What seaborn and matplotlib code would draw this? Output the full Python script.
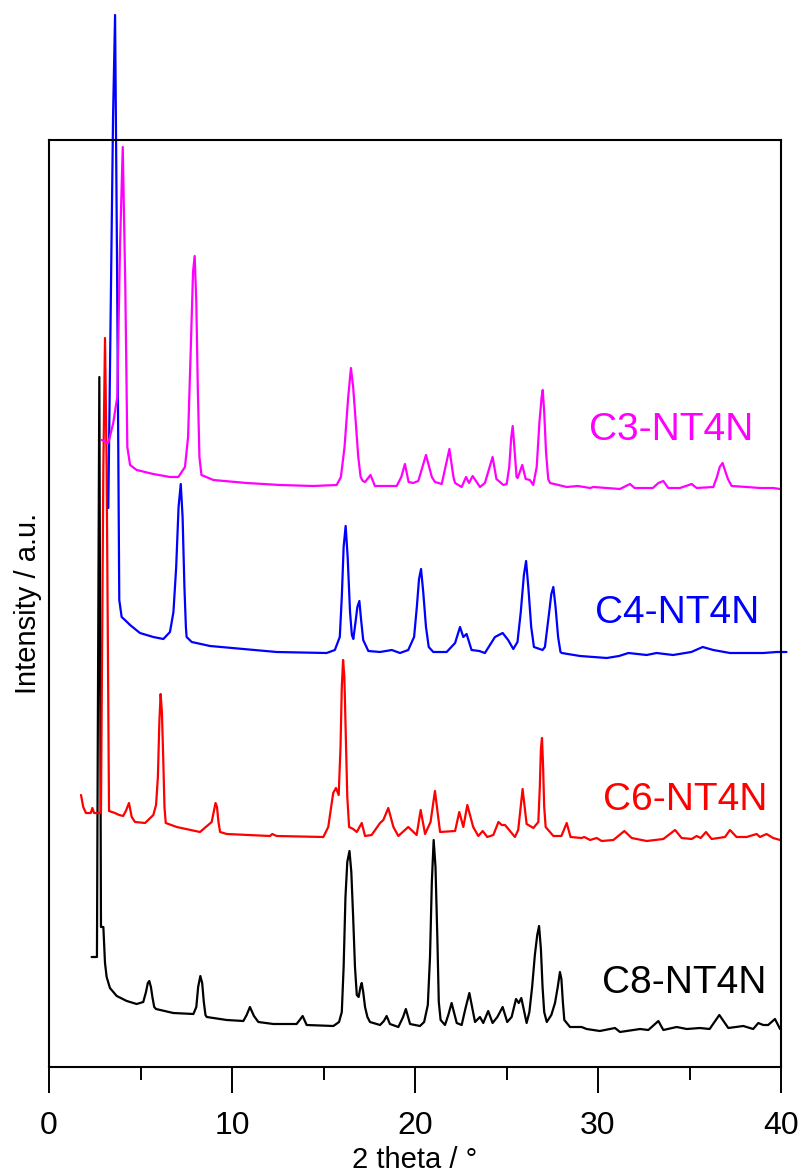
import numpy as np
import pandas as pd
import matplotlib
matplotlib.use("Agg")
import matplotlib.pyplot as plt
import seaborn as sns

# XRD patterns (2 theta in degrees, intensity in a.u., already offset)
c8_theta = [2.33, 2.62, 2.66, 2.75, 2.80, 2.84, 2.97, 3.06, 3.15, 3.33, 3.70, 4.25, 4.79, 5.15, 5.30, 5.40,
            5.48, 5.57, 5.65, 5.75, 5.85, 6.79, 7.89, 8.05, 8.15, 8.27, 8.37, 8.46, 8.55, 8.62, 9.71, 10.62,
            10.80, 10.98, 11.20, 11.44, 12.26, 13.53, 13.70, 13.86, 14.08, 15.54, 15.85, 16.00, 16.10, 16.20,
            16.30, 16.42, 16.52, 16.62, 16.72, 16.82, 16.92, 17.02, 17.09, 17.17, 17.27, 17.40, 17.54, 18.09,
            18.30, 18.45, 18.63, 19.09, 19.35, 19.50, 19.73, 20.27, 20.50, 20.70, 20.82, 20.92, 21.02, 21.12,
            21.22, 21.30, 21.40, 21.64, 21.82, 22.00, 22.28, 22.55, 22.75, 22.97, 23.28, 23.55, 23.73, 24.00,
            24.24, 24.50, 24.79, 25.04, 25.28, 25.52, 25.67, 25.81, 26.10, 26.25, 26.40, 26.55, 26.68, 26.78,
            26.88, 26.97, 27.06, 27.20, 27.45, 27.65, 27.80, 27.92, 28.00, 28.08, 28.16, 28.47, 29.10, 29.38,
            30.10, 30.93, 31.20, 32.30, 32.75, 33.30, 33.57, 34.30, 34.85, 35.57, 36.10, 36.63, 37.12, 37.94,
            38.48, 38.76, 39.03, 39.30, 39.67, 39.95]
c8_int = [110, 110, 300, 690, 400, 140, 140, 104, 90, 79, 71, 66, 63, 65, 75, 84,
          86, 80, 70, 60, 58, 54, 53, 60, 80, 91, 84, 65, 52, 50, 47, 46,
          52, 60, 51, 45, 43, 43, 47, 51, 42, 41, 45, 55, 100, 170,
          205, 216, 195, 150, 100, 72, 70, 80, 84, 75, 60, 50, 45, 42,
          46, 51, 43, 40, 50, 58, 43, 41, 45, 62, 110, 185, 227, 200,
          130, 65, 47, 42, 52, 64, 44, 42, 58, 74, 45, 50, 44, 56,
          44, 50, 60, 45, 50, 68, 64, 69, 44, 55, 80, 112, 132, 141,
          118, 80, 55, 45, 52, 64, 80, 95, 88, 65, 47, 40, 40, 38,
          36, 39, 35, 38, 37, 46, 37, 40, 38, 39, 38, 52, 39, 41,
          38, 44, 42, 42, 48, 38]

c6_theta = [1.75, 1.87, 2.02, 2.28, 2.37, 2.46, 2.84, 2.97, 3.06, 3.15, 3.28, 3.60, 3.84, 4.05, 4.20, 4.37,
            4.52, 4.70, 5.25, 5.70, 5.85, 5.95, 6.03, 6.10, 6.17, 6.24, 6.31, 6.38, 6.98, 8.25, 8.89, 9.00,
            9.10, 9.18, 9.26, 9.35, 9.71, 12.08, 12.20, 12.44, 14.99, 15.26, 15.53, 15.68, 15.83, 15.93,
            16.00, 16.07, 16.14, 16.22, 16.30, 16.40, 16.62, 16.82, 17.09, 17.27, 17.63, 18.09, 18.27, 18.54,
            18.82, 19.09, 19.63, 20.09, 20.31, 20.55, 20.85, 21.09, 21.37, 22.19, 22.42, 22.64, 22.86, 23.18,
            23.46, 23.70, 23.95, 24.28, 24.56, 24.74, 24.92, 25.46, 25.64, 25.88, 26.10, 26.47, 26.74, 26.82,
            26.88, 26.94, 27.00, 27.06, 27.14, 27.56, 28.00, 28.29, 28.50, 29.10, 29.25, 29.57, 29.93, 30.20,
            30.84, 31.44, 31.84, 32.66, 33.57, 34.21, 34.57, 35.12, 35.39, 35.61, 35.90, 36.21, 36.94, 37.21,
            37.57, 38.12, 38.67, 38.85, 39.21, 39.57, 39.95]
c6_int = [272, 260, 254, 254, 259, 254, 254, 600, 729, 600, 256, 254, 252, 251, 256, 264,
          250, 245, 244, 252, 262, 290, 345, 373, 355, 310, 260, 244, 240, 235, 245, 255,
          264, 260, 245, 235, 233, 231, 233, 231, 230, 240, 274, 279, 272, 320,
          380, 407, 390, 330, 270, 240, 238, 235, 244, 231, 232, 244, 247, 259,
          240, 231, 240, 232, 257, 233, 245, 276, 235, 236, 255, 240, 262, 240,
          231, 236, 230, 232, 245, 242, 242, 230, 237, 278, 243, 239, 245, 280,
          318, 329, 300, 260, 240, 231, 231, 244, 230, 229, 230, 227, 229, 226,
          227, 236, 229, 226, 228, 237, 229, 228, 231, 229, 235, 228, 230, 237,
          230, 230, 233, 230, 233, 229, 227]

c4_theta = [3.24, 3.50, 3.61, 3.72, 3.84, 3.97, 4.15, 4.43, 4.97, 5.70, 6.25, 6.61, 6.80, 6.95, 7.08, 7.20,
            7.30, 7.40, 7.48, 7.52, 7.80, 8.80, 10.62, 12.44, 15.17, 15.62, 15.89, 16.00, 16.10, 16.21,
            16.32, 16.45, 16.55, 16.63, 16.75, 16.85, 16.96, 17.05, 17.17, 17.45, 18.09, 18.73, 19.18, 19.63,
            19.95, 20.10, 20.22, 20.33, 20.45, 20.60, 20.75, 21.00, 21.73, 22.19, 22.46, 22.64, 22.82, 23.09,
            23.51, 23.82, 24.37, 24.79, 25.09, 25.37, 25.60, 25.78, 25.95, 26.07, 26.20, 26.35, 26.50, 26.97,
            27.10, 27.30, 27.45, 27.56, 27.68, 27.82, 27.95, 28.02, 29.02, 30.48, 31.15, 31.66, 32.66, 33.20,
            34.10, 35.10, 35.72, 36.30, 37.21, 38.12, 39.03, 39.77, 40.30]
c4_int = [559, 950, 1052, 800, 467, 450, 447, 442, 434, 430, 428, 435, 455, 500, 560, 583,
          550, 480, 440, 430, 425, 421, 418, 415, 414, 417, 430, 470, 520, 541,
          510, 455, 432, 428, 445, 460, 466, 448, 427, 416, 415, 417, 414, 417,
          430, 460, 488, 498, 475, 440, 420, 415, 415, 424, 440, 430, 433, 417,
          416, 414, 430, 434, 427, 418, 425, 455, 492, 506, 478, 440, 420, 417,
          420, 450, 473, 480, 460, 430, 415, 414, 411, 409, 411, 414, 412, 414,
          412, 415, 420, 417, 414, 414, 414, 415, 415]

c3_theta = [2.88, 3.24, 3.51, 3.73, 3.88, 4.03, 4.17, 4.28, 4.43, 4.79, 5.70, 6.61, 7.07, 7.43, 7.60, 7.75,
            7.87, 7.96, 8.05, 8.13, 8.22, 8.33, 8.98, 10.80, 12.62, 14.44, 15.72, 15.95, 16.15, 16.35,
            16.50, 16.62, 16.75, 16.90, 17.03, 17.15, 17.27, 17.57, 17.81, 19.00, 19.25, 19.45, 19.65, 19.90,
            20.18, 20.60, 20.92, 21.09, 21.46, 21.88, 22.10, 22.19, 22.55, 22.79, 22.95, 23.15, 23.55, 23.82,
            24.24, 24.45, 24.83, 25.01, 25.15, 25.26, 25.34, 25.42, 25.55, 25.61, 25.86, 26.05, 26.28, 26.46,
            26.65, 26.80, 26.92, 26.98, 27.06, 27.16, 27.28, 27.38, 28.29, 28.90, 29.57, 29.75, 31.20, 31.75,
            32.00, 33.00, 33.30, 33.57, 33.84, 34.48, 35.12, 35.39, 36.30, 36.50, 36.65, 36.81, 36.95, 37.10,
            37.30, 38.12, 38.85, 39.57, 39.95]
c3_int = [627, 624, 644, 670, 820, 920, 780, 620, 602, 597, 593, 590, 590, 600, 630, 720,
          795, 811, 765, 680, 610, 592, 587, 584, 582, 581, 582, 590, 620, 670,
          699, 680, 648, 610, 590, 586, 585, 592, 581, 581, 590, 603, 585, 584,
          586, 612, 590, 585, 583, 618, 590, 584, 580, 590, 584, 591, 580, 584,
          610, 588, 582, 583, 600, 630, 641, 622, 590, 589, 602, 588, 587, 582,
          600, 645, 670, 677, 655, 615, 588, 584, 580, 581, 579, 580, 578, 583,
          579, 579, 584, 586, 579, 579, 583, 579, 580, 590, 600, 604, 596, 588,
          581, 580, 579, 579, 578]

samples = ["C8-NT4N", "C6-NT4N", "C4-NT4N", "C3-NT4N"]
colors = ["#000000", "#FF0000", "#0000FF", "#FF00FF"]
label_x = [34.7, 34.75, 34.3, 34.0]
label_y = [74, 257, 444, 627]

sns.set_style("ticks")
plt.rcParams["font.family"] = ["Liberation Sans", "DejaVu Sans"]
plt.rcParams["text.color"] = "black"
plt.rcParams["axes.labelcolor"] = "black"
plt.rcParams["xtick.color"] = "black"
plt.rcParams["ytick.color"] = "black"

fig = plt.figure(figsize=(8.02, 11.76), dpi=100)
ax = fig.add_axes([49 / 802, 109 / 1176, 732 / 802, 927 / 1176])

curves = [(c8_theta, c8_int), (c6_theta, c6_int), (c4_theta, c4_int), (c3_theta, c3_int)]
for (tx, iy), name, col in zip(curves, samples, colors):
    df = pd.DataFrame({"theta": tx, "intensity": iy})
    sns.lineplot(data=df, x="theta", y="intensity", ax=ax, color=col, lw=1.6,
                 sort=False, estimator=None)
    ax.lines[-1].set_clip_on(False)

for name, col, lx, ly in zip(samples, colors, label_x, label_y):
    ax.text(lx, ly, name, color=col, fontsize=28, ha="center", va="baseline")

ax.set_xlim(0, 40)
ax.set_ylim(0, 927)
ax.set_xticks([0, 10, 20, 30, 40])
ax.set_xticks([5, 15, 25, 35], minor=True)
ax.set_yticks([])
ax.tick_params(axis="x", which="major", direction="out", length=18.5, width=1.4,
               labelsize=23, pad=13, colors="black")
ax.tick_params(axis="x", which="minor", direction="out", length=9.3, width=1.4, colors="black")
for side in ["top", "bottom", "left", "right"]:
    ax.spines[side].set_visible(True)
    ax.spines[side].set_linewidth(1.5)
    ax.spines[side].set_color("black")

ax.set_xlabel("2 theta / °", fontsize=21, labelpad=4)
ax.set_ylabel("Intensity / a.u.", fontsize=21, labelpad=5)

fig.savefig("out.png", dpi=100)
